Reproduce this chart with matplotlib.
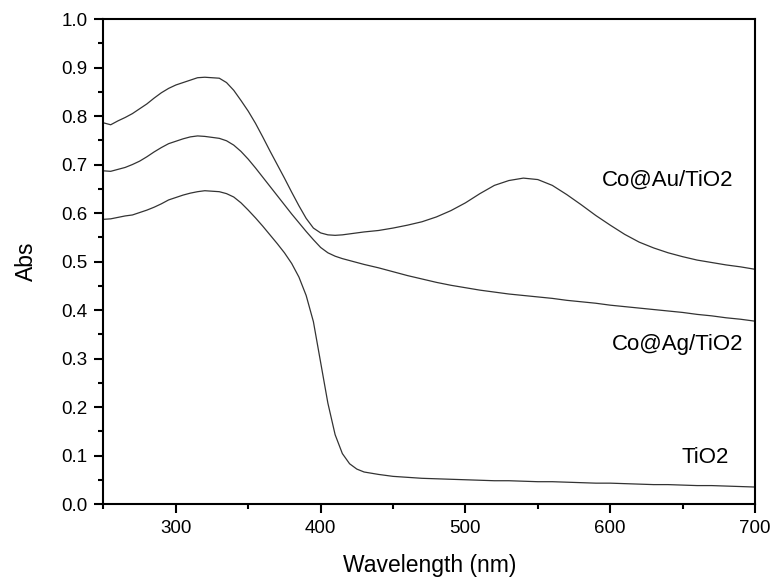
import matplotlib.pyplot as plt
import numpy as np

# wavelength grid (nm)
wl = [250, 255, 260, 265, 270, 275, 280, 285, 290, 295, 300, 305, 310, 315, 320,
      325, 330, 335, 340, 345, 350, 355, 360, 365, 370, 375, 380, 385, 390, 395,
      400, 405, 410, 415, 420, 425, 430,
      440, 450, 460, 470, 480, 490, 500, 510, 520, 530, 540, 550, 560, 570, 580,
      590, 600, 610, 620, 630, 640, 650, 660, 670, 680, 690, 700]

# absorbance
abs_au = [0.786, 0.782, 0.790, 0.797, 0.805, 0.815, 0.825, 0.837, 0.848, 0.857, 0.864,
          0.869, 0.874, 0.879, 0.880, 0.879, 0.878, 0.869, 0.853, 0.832, 0.810, 0.785,
          0.757, 0.728, 0.700, 0.672, 0.643, 0.615, 0.589, 0.569, 0.559, 0.555, 0.554,
          0.555, 0.557, 0.559, 0.561,
          0.564, 0.569, 0.575, 0.582, 0.592, 0.605, 0.621, 0.640, 0.657, 0.667, 0.672,
          0.669, 0.657, 0.638, 0.617, 0.595, 0.575, 0.556, 0.540, 0.528, 0.518, 0.510,
          0.503, 0.498, 0.493, 0.489, 0.484]

abs_ag = [0.687, 0.686, 0.690, 0.694, 0.700, 0.707, 0.716, 0.726, 0.735, 0.743, 0.748,
          0.753, 0.757, 0.759, 0.758, 0.756, 0.754, 0.749, 0.740, 0.727, 0.711, 0.693,
          0.674, 0.655, 0.636, 0.617, 0.598, 0.580, 0.562, 0.545, 0.529, 0.518, 0.511,
          0.506, 0.502, 0.498, 0.494,
          0.487, 0.479, 0.471, 0.464, 0.457, 0.451, 0.446, 0.441, 0.437, 0.433, 0.430,
          0.427, 0.424, 0.420, 0.417, 0.414, 0.410, 0.407, 0.404, 0.401, 0.398, 0.395,
          0.391, 0.388, 0.384, 0.381, 0.377]

abs_tio2 = [0.587, 0.588, 0.591, 0.594, 0.596, 0.601, 0.606, 0.612, 0.619, 0.627, 0.632,
            0.637, 0.641, 0.644, 0.646, 0.645, 0.644, 0.640, 0.633, 0.621, 0.606, 0.590,
            0.573, 0.555, 0.537, 0.518, 0.496, 0.468, 0.430, 0.376, 0.292, 0.208, 0.143,
            0.104, 0.083, 0.072, 0.066,
            0.061, 0.057, 0.055, 0.053, 0.052, 0.051, 0.050, 0.049, 0.048, 0.048, 0.047,
            0.046, 0.046, 0.045, 0.044, 0.043, 0.043, 0.042, 0.041, 0.040, 0.040, 0.039,
            0.038, 0.038, 0.037, 0.036, 0.035]

plt.rcParams['font.family'] = ['Liberation Sans', 'DejaVu Sans']

fig = plt.figure(figsize=(7.72, 5.77), dpi=100)
ax = fig.add_axes([0.134, 0.1265, 0.844, 0.8405])

lc = '#333333'
ax.plot(wl, abs_au, color=lc, lw=0.9)
ax.plot(wl, abs_ag, color=lc, lw=0.9)
ax.plot(wl, abs_tio2, color=lc, lw=0.9)

ax.text(594, 0.668, 'Co@Au/TiO2', fontsize=16, ha='left', va='center')
ax.text(601, 0.328, 'Co@Ag/TiO2', fontsize=16, ha='left', va='center')
ax.text(649, 0.095, 'TiO2', fontsize=16, ha='left', va='center')

ax.set_xlim(250, 700)
ax.set_ylim(0, 1.0)
ax.set_xticks([300, 400, 500, 600, 700])
ax.set_xticks(np.arange(250, 701, 50), minor=True)
ax.set_yticks(np.arange(0, 1.01, 0.1))
ax.set_yticks(np.arange(0.05, 1.0, 0.1), minor=True)
ax.yaxis.set_major_formatter(plt.FormatStrFormatter('%.1f'))

for s in ax.spines.values():
    s.set_linewidth(1.5)
ax.tick_params(which='major', direction='out', length=6.5, width=1.5,
               labelsize=13.5, pad=5)
ax.tick_params(which='minor', direction='out', length=3.5, width=1.5)

ax.set_xlabel('Wavelength (nm)', fontsize=16.5, labelpad=12)
ax.set_ylabel('Abs', fontsize=16.5, labelpad=17)

fig.savefig('out.png', dpi=100)
